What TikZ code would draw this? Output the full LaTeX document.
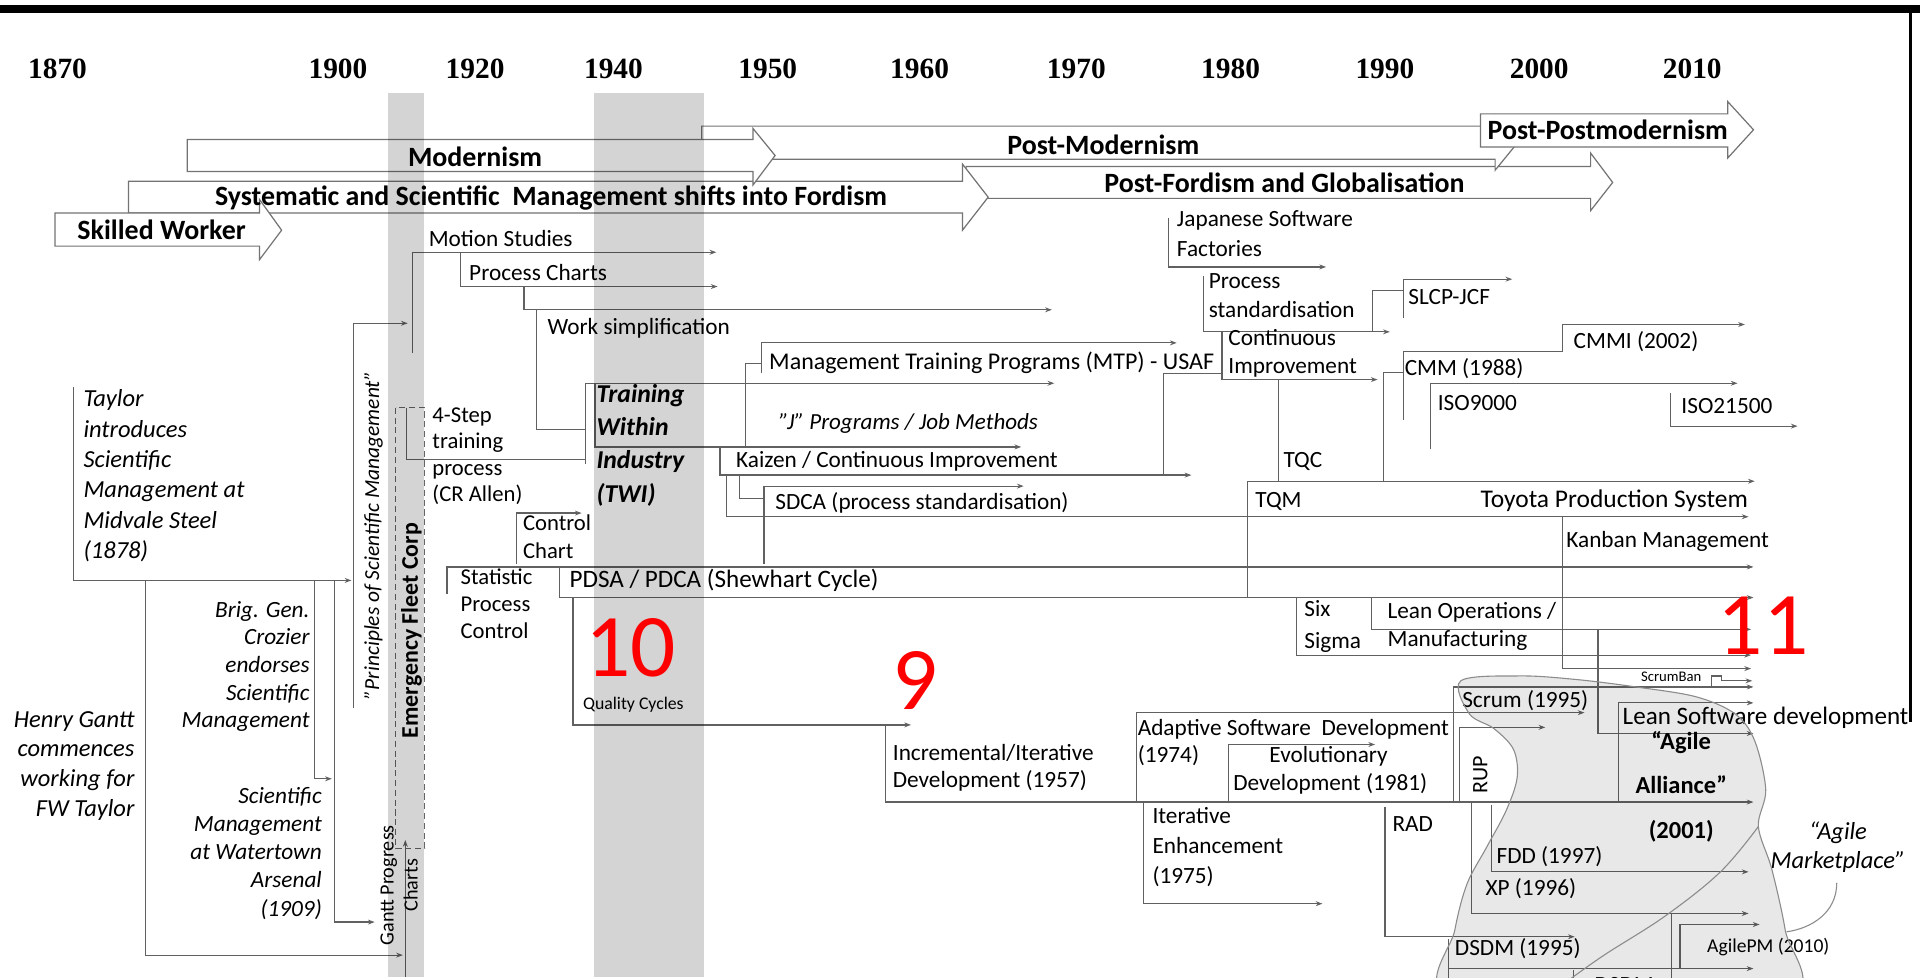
\documentclass[tikz,border=0pt]{standalone}
\usepackage{fontspec}
\setmainfont{Carlito}
\newfontfamily\yearfont{Liberation Serif}
\usetikzlibrary{arrows.meta}
\newcommand\fsz[2]{\fontsize{#1}{#2}\selectfont}

\begin{document}
\begin{tikzpicture}[x=1pt,y=-1pt,
  ln/.style={draw=black!62, line width=1pt},
  ar/.style={ln, -{Stealth[length=5.5pt,width=4pt]}},
  hdr/.style={draw=black!55, line width=1pt, fill=white, line join=miter},
  hdrtxt/.style={inner sep=0pt, font=\fsz{22.8}{27}\bfseries},
  yr/.style={inner sep=0pt, font=\yearfont\fsz{24}{28}\bfseries},
  lab/.style={inner sep=0pt, anchor=west, font=\fsz{19}{22},
    execute at begin node=\strut, execute at end node=\strut},
  rot/.style={rotate=90, inner sep=0pt},
  band/.style={fill=black!17},
  blobfill/.style={fill=black!9},
  blobline/.style={draw=black!45, line width=0.9pt},
  big/.style={inner sep=0pt, text=red, font=\fsz{73}{80}}
]
\useasboundingbox (0,0) rectangle (1568,798);

% frame
\fill[black] (0,4) rectangle (1568,10.5);
\draw[black, line width=2.6pt] (1560,4) -- (1560,590);

% year scale
\foreach \yx/\yt in {47/1870, 276/1900, 388/1920, 501/1940, 627/1950, 751/1960,
                     879/1970, 1005/1980, 1131/1990, 1257/2000, 1382/2010}
  \node[yr] (yr\yt) at (\yx,56) {\yt};

% era block arrows
\draw[hdr] (789,136) -- (1299,136) -- (1299,125) -- (1317,149) -- (1299,172) -- (1299,162) -- (789,162) -- cycle;
\draw[hdr] (573,103) -- (1221,103) -- (1221,94) -- (1239,117) -- (1221,139) -- (1221,130) -- (573,130) -- cycle;
\draw[hdr] (105,148) -- (786,148) -- (786,134) -- (807,161) -- (786,188) -- (786,174) -- (105,174) -- cycle;
\draw[hdr] (153,114) -- (615,114) -- (615,105) -- (633,127) -- (615,151) -- (615,140) -- (153,140) -- cycle;
\draw[hdr] (45,174) -- (212,174) -- (212,163) -- (230,188) -- (212,212) -- (212,201) -- (45,201) -- cycle;
\draw[hdr] (1209,93) -- (1411,93) -- (1411,83) -- (1432,106) -- (1411,129) -- (1411,120) -- (1209,120) -- cycle;
\node[hdrtxt] (postford) at (1049,149) {Post-Fordism and Globalisation};
\node[hdrtxt] (postmod) at (901,118) {Post-Modernism};
\node[hdrtxt] (sysmgmt) at (450,162) {Systematic and Scientific\ \ Management shifts into Fordism};
\node[hdrtxt] (modern) at (388,128) {Modernism};
\node[hdrtxt] (skilled) at (132,188) {Skilled Worker};
\node[hdrtxt] (postpost) at (1313,106) {Post-Postmodernism};

% early scientific management
\draw[ar] (60,316) |- (287,474);
\draw[ar] (119,474) |- (329,780);
\draw[ar] (257,474) |- (271,636);
\draw[ar] (273,474) |- (306,753);
\draw[ar] (289,578) |- (333,264);
\draw[ar] (331,798) -- (331,686);
\draw[black!60, line width=0.9pt, dash pattern=on 5pt off 3pt] (323,333) rectangle (347,693);

% motion studies to TWI
\draw[ar] (337,288) |- (585,206);
\draw[ar] (376,206) |- (586,234);
\draw[ar] (428,234) |- (859,253);
\draw[ln] (438,253) |- (478,351);
\draw[ln] (332,333) |- (478,375);
\draw[ln] (478,379) -- (478,313);
\draw[ar] (478,313) -- (861,313);
\draw[ln] (486,313) rectangle (609,365);
\draw[ar] (609,365) -- (834,365);
\draw[ln] (609,365) |- (622,297);
\draw[ar] (622,305) |- (961,280);

% Kaizen and SDCA
\draw[ar] (588,365) |- (973,388);
\draw[ar] (593,388) |- (1428,422);
\draw[ln] (604,388) |- (624,407);
\draw[ar] (624,461) |- (836,397);
\draw[ln] (950,388) |- (998,305);

% statistical control and PDSA
\draw[ar] (422,461) |- (475,419);
\draw[ar] (365,485) |- (1432,463);
\draw[ln] (457,463) -- (457,488);
\draw[ar] (457,488) -- (1432,488);
\draw[ar] (468,488) |- (744,592);
\draw[ar] (723,592) |- (1432,655);

% Japanese software factories and standards
\draw[ar] (954,178) |- (1083,218);
\draw[ar] (983,225) |- (1135,271);
\draw[ar] (998,271) |- (1125,310);
\draw[ln] (1121,271) |- (1146,237);
\draw[ar] (1146,260) |- (1235,228);
\draw[ln] (1044,310) -- (1044,393);
\draw[ar] (1019,488) |- (1433,393);
\draw[ln] (1130,393) |- (1146,304);
\draw[ar] (1146,343) |- (1276,287) |- (1425,265);
\draw[ar] (1168,367) |- (1419,313);
\draw[ar] (1364,321) |- (1468,348);

% lean branch
\draw[ar] (1276,422) |- (1430,546);
\draw[ar] (1059,488) |- (1430,535);
\draw[ar] (1120,488) |- (1430,514);
\draw[ar] (1305,514) |- (1432,599);
\draw[ar] (1398,561) -- (1398,552) -- (1406,552) -- (1406,556) -- (1431,556);

% software development branch
\draw[ar] (1187,655) |- (1432,561);
\draw[ar] (928,655) |- (1294,582);
\draw[ar] (1003,655) |- (1123,608);
\draw[ar] (1192,655) |- (1262,594);
\draw[ar] (1322,655) |- (1432,574);
\draw[ar] (934,655) |- (1080,738);
\draw[ar] (1131,659) |- (1286,765);
\draw[ar] (1202,656) |- (1428,746);
\draw[ar] (1218,657) |- (1428,712);
\draw[ar] (1183,767) |- (1432,791);
\draw[ln] (1183,791) -- (1183,800);
\draw[ln] (1365,746) -- (1365,800);
\draw[ar] (1372,791) |- (1437,755);
\draw[ln] (1285,792) -- (1285,800);

% labels: left column
\node[lab, font=\fsz{20}{24.8}\itshape, align=left] (taylor) at (68,391) {Taylor\\introduces\\Scientific\\Management at\\Midvale Steel\\(1878)};
\node[lab, anchor=east, font=\fsz{19}{22.5}\itshape, align=right] (crozier) at (253,546) {Brig. Gen.\\Crozier\\endorses\\Scientific\\Management};
\node[lab, anchor=east, font=\fsz{20}{24.3}\itshape, align=right] (gantt) at (110,627.5) {Henry Gantt\\commences\\working for\\FW Taylor};
\node[lab, anchor=east, font=\fsz{19}{23}\itshape, align=right] (watertown) at (263,699) {Scientific\\Management\\at Watertown\\Arsenal\\(1909)};
\node[rot, font=\fsz{17.5}{20}\itshape] (principles) at (305,437) {"Principles of Scientific Management"};
\node[rot, font=\fsz{19.5}{22}\bfseries] (fleet) at (336,515) {Emergency Fleet Corp};
\node[rot, font=\fsz{16.5}{19.5}, align=center] (ganttcharts) at (326,723) {Gantt Progress\\Charts};

% labels: 1910s to 1950s
\node[lab] (motion) at (350,197) {Motion Studies};
\node[lab] (pcharts) at (383,225) {Process Charts};
\node[lab] (worksimp) at (447,269) {Work simplification};
\node[lab, align=left, font=\fsz{18.5}{21.7}] (fourstep) at (353,374.5) {4-Step\\training\\process\\(CR Allen)};
\node[lab, align=left, font=\fsz{21}{27.3}\bfseries\itshape] (twi) at (487,366) {Training\\Within\\Industry\\(TWI)};
\node[lab, align=left, font=\fsz{18.5}{23}] (control) at (427,441.5) {Control\\Chart};
\node[lab, align=left, font=\fsz{18.5}{22}] (spc) at (376,496) {Statistic\\Process\\Control};
\node[lab, font=\fsz{20.5}{24}] (pdsa) at (465,475) {PDSA / PDCA (Shewhart Cycle)};
\node[lab, font=\fsz{14.5}{17}] (quality) at (476,576) {Quality Cycles};
\node[lab, font=\fsz{19.6}{22}] (mtp) at (628,297) {Management Training Programs (MTP) - USAF};
\node[lab, font=\fsz{18.8}{22}\itshape] (jprog) at (636,346) {"J" Programs / Job Methods};
\node[lab] (kaizen) at (601,377) {Kaizen / Continuous Improvement};
\node[lab] (sdca) at (633,412) {SDCA (process standardisation)};

% labels: quality and process branch
\node[lab, align=left, font=\fsz{19}{25}] (jsf) at (961,194.5) {Japanese Software\\Factories};
\node[lab, align=left, font=\fsz{19}{24}] (pstd) at (987,245) {Process\\standardisation};
\node[lab] (slcp) at (1150,244) {SLCP-JCF};
\node[lab, align=left, font=\fsz{19}{23}] (ci) at (1003,290.5) {Continuous\\Improvement};
\node[lab] (cmmi) at (1285,280) {CMMI (2002)};
\node[lab] (cmm) at (1147,302) {CMM (1988)};
\node[lab] (iso9000) at (1174,331) {ISO9000};
\node[lab] (iso21500) at (1373,333) {ISO21500};
\node[lab] (tqc) at (1048,377) {TQC};
\node[lab] (tqm) at (1025,410) {TQM};
\node[lab, font=\fsz{20.8}{24}] (toyota) at (1209,410) {Toyota Production System};
\node[lab] (kanban) at (1279,443) {Kanban Management};
\node[lab, align=left, font=\fsz{19}{26}] (sixsigma) at (1065,514) {Six\\Sigma};
\node[lab, align=left, font=\fsz{19}{23}] (leanops) at (1133,513.5) {Lean Operations /\\Manufacturing};
\node[lab, font=\fsz{12}{14}] (scrumban) at (1340,554) {ScrumBan};

% labels: software development branch
\node[lab] (scrum) at (1194,573) {Scrum (1995)};
\node[lab, font=\fsz{20.5}{24}] (leansw) at (1325,587) {Lean Software development};
\node[lab] (asd) at (929,596) {Adaptive Software\ \ Development};
\node[lab] (asdyr) at (929,618) {(1974)};
\node[lab, anchor=center] (evo) at (1085,618) {Evolutionary};
\node[lab] (evodev) at (1007,641) {Development (1981)};
\node[rot, font=\fsz{18}{20}] (rup) at (1209,633) {RUP};
\node[lab, align=left, font=\fsz{19}{22}] (incr) at (729,629) {Incremental/Iterative\\Development (1957)};
\node[lab, align=left, font=\fsz{19}{24.5}] (ienh) at (941,694.5) {Iterative\\Enhancement\\(1975)};
\node[lab] (rad) at (1137,675) {RAD};
\node[lab] (fdd) at (1222,701) {FDD (1997)};
\node[lab] (xp) at (1213,727) {XP (1996)};
\node[lab] (dsdm) at (1188,776) {DSDM (1995)};
\node[lab, font=\fsz{16}{19}] (agilepm) at (1394,774) {AgilePM (2010)};
\node[lab] (dsdmb) at (1302,806) {DSDM};
\node[inner sep=0pt, align=center, font=\fsz{20}{36.5}\bfseries,
      execute at begin node=\strut, execute at end node=\strut] (alliance) at (1373,646.5) {“Agile\\Alliance”\\(2001)};
\node[inner sep=0pt, align=center, font=\fsz{20}{24}\itshape,
      execute at begin node=\strut, execute at end node=\strut] (market) at (1501,694) {“Agile\\Marketplace”};

% shaded periods and the agile region
\begin{scope}[blend mode=multiply]
  \fill[band] (317,76) rectangle (346,798);
  \fill[band] (485,76) rectangle (575,798);
  \fill[blobfill] plot[smooth cycle, tension=0.55] coordinates {(1193,556) (1242,552) (1288,555) (1336,561) (1385,569) (1417,583) (1433,605) (1442,645) (1436,675) (1447,710) (1458,760) (1464,812) (1320,822) (1181,812) (1188,760) (1198,722) (1214,692) (1230,662) (1239,635) (1236,612) (1220,595) (1200,583)};
\end{scope}
\draw[blobline] plot[smooth cycle, tension=0.55] coordinates {(1193,556) (1242,552) (1288,555) (1336,561) (1385,569) (1417,583) (1433,605) (1442,645) (1436,675) (1447,710) (1458,760) (1464,812) (1320,822) (1181,812) (1188,760) (1198,722) (1214,692) (1230,662) (1239,635) (1236,612) (1220,595) (1200,583)};
\draw[blobline] plot[smooth, tension=0.6] coordinates {(1436,675) (1405,712) (1360,748) (1310,780) (1279,802)};
\draw[blobline] (1500,721) .. controls (1500,745) and (1480,758) .. (1459,761);

% section numbers
\node[big] (n10) at (515,529) {10};
\node[big] (n9) at (747,556) {9};
\node[big] (n11) at (1440,511) {11};
\end{tikzpicture}
\end{document}
